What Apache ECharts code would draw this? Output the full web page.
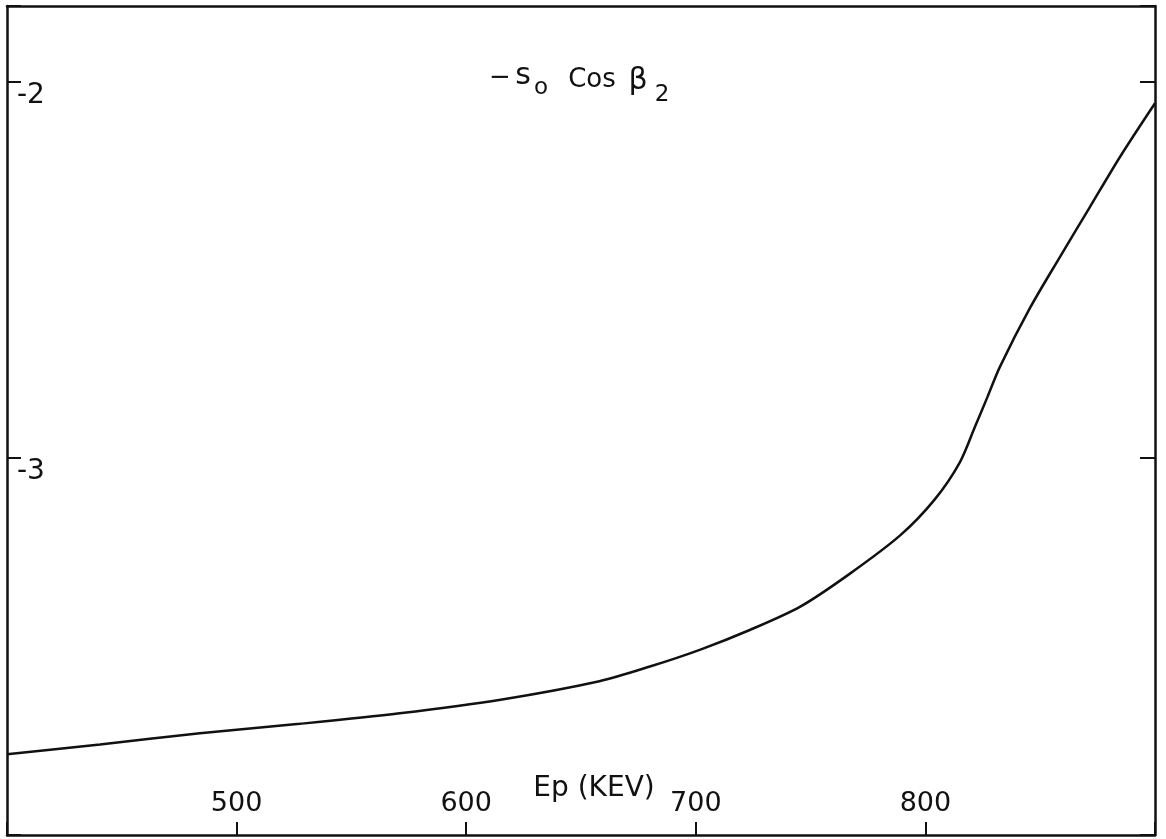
<!DOCTYPE html>
<html>
<head>
<meta charset="utf-8">
<script src="https://cdn.jsdelivr.net/npm/echarts@6/dist/echarts.min.js"></script>
<style>
  html, body { margin: 0; padding: 0; background: #ffffff; }
  #chart { width: 1166px; height: 839px; }
</style>
</head>
<body>
<div id="chart"></div>
<script>
// Energy of proton (keV) and curve values
const energyKeV = [400, 440.5, 484, 527.5, 571, 615, 658, 680, 702, 723.5, 745.5, 767, 789, 804, 815, 821.5, 827, 832.5, 845.5, 858.5, 871.5, 885, 900];
const minusS0CosBeta2 = [-3.786, -3.760, -3.730, -3.705, -3.677, -3.641, -3.592, -3.553, -3.508, -3.456, -3.394, -3.307, -3.205, -3.110, -3.011, -2.918, -2.838, -2.757, -2.602, -2.467, -2.335, -2.198, -2.058];
const xTickLabels = [500, 600, 700, 800];
const yTickLabels = [-3, -2];

const seriesData = energyKeV.map((x, i) => [x, minusS0CosBeta2[i]]);
const ink = '#111111';
const font = 'DejaVu Sans';

const chart = echarts.init(document.getElementById('chart'), null, { renderer: 'canvas' });
chart.setOption({
  animation: false,
  backgroundColor: '#ffffff',
  grid: { left: 7, right: 11, top: 6, bottom: 4, outerBoundsMode: 'none', containLabel: false },
  xAxis: [{
    type: 'value', min: 400, max: 900, interval: 100, position: 'bottom',
    axisLine: { show: true, lineStyle: { color: ink, width: 2.5 } },
    axisTick: { show: true, inside: true, length: 13, lineStyle: { color: ink, width: 2 } },
    axisLabel: {
      inside: true, margin: 18, color: ink, fontFamily: font, fontSize: 27,
      formatter: v => xTickLabels.includes(v) ? String(v) : ''
    },
    splitLine: { show: false }
  }, {
    type: 'value', min: 400, max: 900, position: 'top',
    axisLine: { show: true, onZero: false, lineStyle: { color: ink, width: 2.5 } },
    axisTick: { show: false }, axisLabel: { show: false }, splitLine: { show: false }
  }],
  yAxis: [{
    type: 'value', min: -4, max: -1.8, interval: 1, position: 'left',
    axisLine: { show: true, onZero: false, lineStyle: { color: ink, width: 2.5 } },
    axisTick: { show: true, inside: true, length: 14, lineStyle: { color: ink, width: 2 } },
    axisLabel: {
      inside: true, margin: 10, color: ink, fontFamily: font, fontSize: 28, verticalAlign: 'top',
      formatter: v => yTickLabels.includes(v) ? String(v) : ''
    },
    splitLine: { show: false }
  }, {
    type: 'value', min: -4, max: -1.8, interval: 1, position: 'right',
    axisLine: { show: true, onZero: false, lineStyle: { color: ink, width: 2.5 } },
    axisTick: { show: true, inside: true, length: 15, lineStyle: { color: ink, width: 2 } },
    axisLabel: { show: false }, splitLine: { show: false }
  }],
  series: [{
    type: 'line', data: seriesData, xAxisIndex: 0, yAxisIndex: 0,
    smooth: 0.3, showSymbol: false, symbol: 'none',
    lineStyle: { color: ink, width: 2.5 }
  }],
  graphic: [
    { type: 'text', x: 500, y: 78, style: { text: '−', font: '26px "DejaVu Sans"', fill: ink, align: 'center', verticalAlign: 'middle' } },
    { type: 'text', x: 523, y: 76, style: { text: 's', font: '30px "DejaVu Sans"', fill: ink, align: 'center', verticalAlign: 'middle' } },
    { type: 'text', x: 541, y: 88, style: { text: 'o', font: '23px "DejaVu Sans"', fill: ink, align: 'center', verticalAlign: 'middle' } },
    { type: 'text', x: 592, y: 80, style: { text: 'Cos', font: '26px "DejaVu Sans"', fill: ink, align: 'center', verticalAlign: 'middle' } },
    { type: 'text', x: 638, y: 81, style: { text: 'β', font: '30px "DejaVu Sans"', fill: ink, align: 'center', verticalAlign: 'middle' } },
    { type: 'text', x: 662, y: 95, style: { text: '2', font: '23px "DejaVu Sans"', fill: ink, align: 'center', verticalAlign: 'middle' } },
    { type: 'text', x: 594, y: 789, style: { text: 'Ep (KEV)', font: '28px "DejaVu Sans"', fill: ink, align: 'center', verticalAlign: 'middle' } }
  ]
});
</script>
</body>
</html>
